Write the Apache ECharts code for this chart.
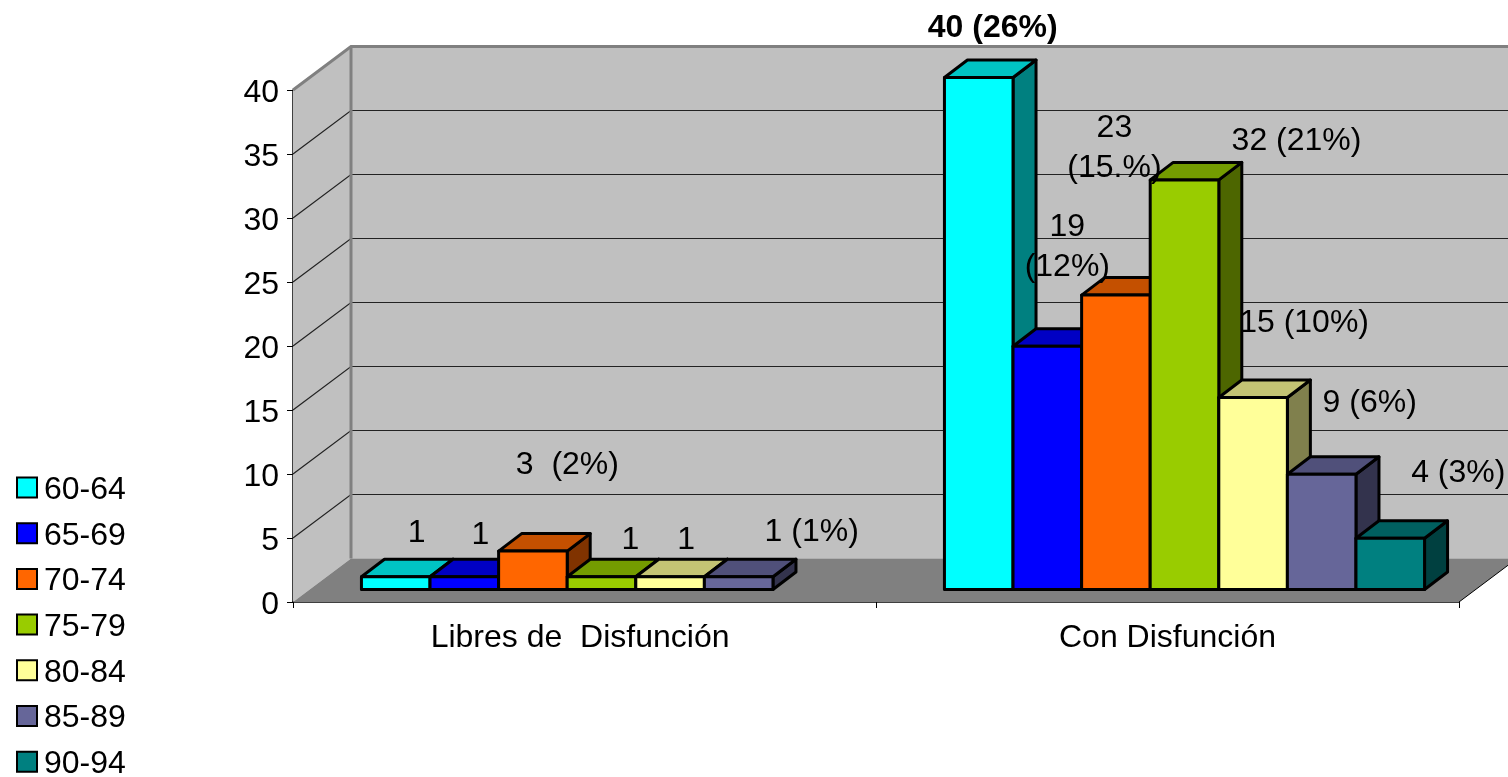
<!DOCTYPE html>
<html>
<head>
<meta charset="utf-8">
<title>Disfunción por edad</title>
<style>
    html, body { margin: 0; padding: 0; background: #fff; }
    #chart { width: 1508px; height: 777px; }
</style>
<script src="https://cdn.jsdelivr.net/npm/echarts@6/dist/echarts.min.js"></script>
</head>
<body>
<div id="chart"></div>
<script>
// data
const categories = ['Libres de  Disfunción ', 'Con Disfunción']
const ageGroups = ['60-64', '65-69', '70-74', '75-79', '80-84', '85-89', '90-94']
const values6064 = [1, 40]
const values6569 = [1, 19]
const values7074 = [3, 23]
const values7579 = [1, 32]
const values8084 = [1, 15]
const values8589 = [1, 9]
const values9094 = [null, 4]
const seriesValues = [values6064, values6569, values7074, values7579, values8084, values8589, values9094]

const labels6064 = ['1', '40 (26%)']
const labels6569 = ['1', '19\n(12%)']
const labels7074 = ['3  (2%)', '23\n(15.%)']
const labels7579 = ['1', '32 (21%)']
const labels8084 = ['1', '15 (10%)']
const labels8589 = ['1 (1%)', '9 (6%)']
const labels9094 = [null, '4 (3%)']
const seriesLabels = [labels6064, labels6569, labels7074, labels7579, labels8084, labels8589, labels9094]

const yTicks = [0, 5, 10, 15, 20, 25, 30, 35, 40]

// colours per age group: front, top and side of the bars
const faceColors = ['#00FFFF', '#0000FF', '#FF6600', '#99CC00', '#FFFF99', '#666699', '#008080']
const topColors = ['#00C4C4', '#0000C4', '#C45000', '#749C00', '#C4C474', '#50507A', '#006060']
const sideColors = ['#008080', '#000080', '#803300', '#4D6600', '#80804D', '#33334D', '#004040']

// 3D look, in pixels
const FONT = '"Liberation Sans", Arial, sans-serif'
const WALL_DX = 58, WALL_DY = -43.5    // front of the floor to the back wall
const BAR_DX = 17, BAR_DY = -12.5      // front of the floor to the front of the bars
const DEPTH_DX = 23, DEPTH_DY = -17.5  // depth of one bar
const GROUP_BARS = 8.5                 // a category holds 7 bars and the gap

// where each label sits, relative to the top middle of its bar
const labelShifts = [
    [[21, -44], [14, -49]],
    [[16, -42], [20, -99]],
    [[34.5, -86], [-1.5, -147]],
    [[29, -37], [112, -39]],
    [[16, -37], [51, -74]],
    [[73, -45], [48, -71]],
    [null, [68, -65]]
]

// left edge and width of a bar on screen
function barBox(api, catIndex, serIndex, value) {
    const base = api.coord([catIndex, 0])
    const top = api.coord([catIndex, value])
    const w = api.size([1, 0])[0] / GROUP_BARS
    const x = base[0] + BAR_DX - w * ageGroups.length / 2 + w * serIndex
    return { x: x, w: w, yBase: base[1] + BAR_DY, yTop: top[1] + BAR_DY }
}

// back wall, side wall, floor and their grid lines
function renderWalls(params, api) {
    const left = api.coord([0, 0])[0] - api.size([1, 0])[0] / 2
    const right = left + api.size([1, 0])[0] * categories.length
    const y0 = api.coord([0, 0])[1]
    const yMax = api.coord([0, yTicks[yTicks.length - 1]])[1]
    const children = []
    const wallFill = { fill: '#C0C0C0' }
    const wallEdge = { stroke: '#808080', lineWidth: 3, fill: null }
    children.push({
        type: 'polygon',
        shape: { points: [[left + WALL_DX, yMax + WALL_DY], [right + WALL_DX, yMax + WALL_DY], [right + WALL_DX, y0 + WALL_DY], [left + WALL_DX, y0 + WALL_DY]] },
        style: wallFill
    })
    children.push({
        type: 'polygon',
        shape: { points: [[left, yMax], [left + WALL_DX, yMax + WALL_DY], [left + WALL_DX, y0 + WALL_DY], [left, y0]] },
        style: wallFill
    })
    children.push({
        type: 'polygon',
        shape: { points: [[left, y0], [right, y0], [right + WALL_DX, y0 + WALL_DY], [left + WALL_DX, y0 + WALL_DY]] },
        style: { fill: '#808080' }
    })
    yTicks.slice(1, -1).forEach((t) => {
        const y = api.coord([0, t])[1]
        children.push({
            type: 'polyline',
            shape: { points: [[left, y], [left + WALL_DX, y + WALL_DY], [right + WALL_DX, y + WALL_DY]] },
            style: { stroke: '#222', lineWidth: 1.2, fill: null }
        })
    })
    children.push({
        type: 'polyline',
        shape: { points: [[left, yMax], [left + WALL_DX, yMax + WALL_DY], [right + WALL_DX, yMax + WALL_DY]] },
        style: wallEdge
    })
    children.push({
        type: 'line',
        shape: { x1: left + WALL_DX, y1: yMax + WALL_DY, x2: left + WALL_DX, y2: y0 + WALL_DY },
        style: wallEdge
    })
    children.push({
        type: 'line',
        shape: { x1: right, y1: y0, x2: right + WALL_DX, y2: y0 + WALL_DY },
        style: { stroke: '#000', lineWidth: 1 }
    })
    return { type: 'group', children: children }
}

// one 3D bar: side, top, then front
function renderBar(serIndex) {
    return (params, api) => {
        const value = api.value(1)
        if (isNaN(value)) {
            return null
        }
        const b = barBox(api, api.value(0), serIndex, value)
        const edge = { stroke: '#000', lineWidth: 3, lineJoin: 'round' }
        return {
            type: 'group',
            children: [{
                type: 'polygon',
                shape: { points: [[b.x + b.w, b.yTop], [b.x + b.w + DEPTH_DX, b.yTop + DEPTH_DY], [b.x + b.w + DEPTH_DX, b.yBase + DEPTH_DY], [b.x + b.w, b.yBase]] },
                style: Object.assign({ fill: sideColors[serIndex] }, edge)
            }, {
                type: 'polygon',
                shape: { points: [[b.x, b.yTop], [b.x + DEPTH_DX, b.yTop + DEPTH_DY], [b.x + b.w + DEPTH_DX, b.yTop + DEPTH_DY], [b.x + b.w, b.yTop]] },
                style: Object.assign({ fill: topColors[serIndex] }, edge)
            }, {
                type: 'rect',
                shape: { x: b.x, y: b.yTop, width: b.w, height: b.yBase - b.yTop },
                style: Object.assign({ fill: faceColors[serIndex] }, edge)
            }]
        }
    }
}

// labels go in their own series so they stay above every bar
function renderLabel(params, api) {
    const catIndex = api.value(0)
    const serIndex = api.value(2)
    const text = seriesLabels[serIndex][catIndex]
    const shift = labelShifts[serIndex][catIndex]
    if (text === null) {
        return null
    }
    const b = barBox(api, catIndex, serIndex, api.value(1))
    return {
        type: 'text',
        style: {
            text: text,
            x: b.x + b.w / 2 + shift[0],
            y: b.yTop + shift[1],
            align: 'center',
            verticalAlign: 'middle',
            fill: '#000',
            fontFamily: FONT,
            fontSize: 32,
            lineHeight: 40,
            fontWeight: text.indexOf('40') === 0 ? 'bold' : 'normal'
        }
    }
}

const barSeries = ageGroups.map((name, s) => ({
    name: name,
    type: 'custom',
    z: 3,
    coordinateSystem: 'cartesian2d',
    itemStyle: { color: faceColors[s] },
    encode: { x: 0, y: 1 },
    data: seriesValues[s].map((v, c) => [c, v === null ? '-' : v]),
    renderItem: renderBar(s)
}))

let labelRows = []
seriesValues.forEach((vals, s) => {
    vals.forEach((v, c) => {
        if (v !== null) {
            labelRows.push([c, v, s])
        }
    })
})

const option = {
    animation: false,
    backgroundColor: '#fff',
    textStyle: { fontFamily: FONT },
    grid: { left: 293, top: 90, width: 1166, height: 512 },
    legend: {
        orient: 'vertical',
        left: 16,
        top: 469,
        height: 400,
        padding: 0,
        itemWidth: 20,
        itemHeight: 20,
        itemGap: 8.7,
        icon: 'rect',
        data: ageGroups,
        selectedMode: false,
        itemStyle: { borderColor: '#000', borderWidth: 2 },
        formatter: '{t|{name}}',
        textStyle: {
            fontFamily: FONT,
            fontSize: 32,
            color: '#000',
            rich: { t: { fontFamily: FONT, fontSize: 32, color: '#000', lineHeight: 31, padding: [5, 0, 0, 2] } }
        }
    },
    xAxis: {
        type: 'category',
        data: categories,
        axisLine: { show: true, lineStyle: { color: '#000', width: 1.5 } },
        axisTick: { show: true, length: 6, lineStyle: { color: '#000' } },
        axisLabel: { color: '#000', fontFamily: FONT, fontSize: 32, margin: 20 },
        splitLine: { show: false }
    },
    yAxis: {
        type: 'value',
        min: 0,
        max: 40,
        interval: 5,
        axisLine: { show: true, lineStyle: { color: '#000', width: 1.5 } },
        axisTick: { show: true, length: 6, lineStyle: { color: '#000' } },
        axisLabel: { color: '#000', fontFamily: FONT, fontSize: 32, margin: 14, verticalAlign: 'top', lineHeight: 6 },
        splitLine: { show: false }
    },
    series: [{
        type: 'custom',
        z: 1,
        silent: true,
        data: [[0, 0]],
        encode: { x: 0, y: 1 },
        clip: false,
        renderItem: renderWalls
    }].concat(barSeries).concat([{
        type: 'custom',
        z: 5,
        silent: true,
        data: labelRows,
        encode: { x: 0, y: 1 },
        renderItem: renderLabel
    }])
}

const chart = echarts.init(document.getElementById('chart'))
chart.setOption(option)
</script>
</body>
</html>
